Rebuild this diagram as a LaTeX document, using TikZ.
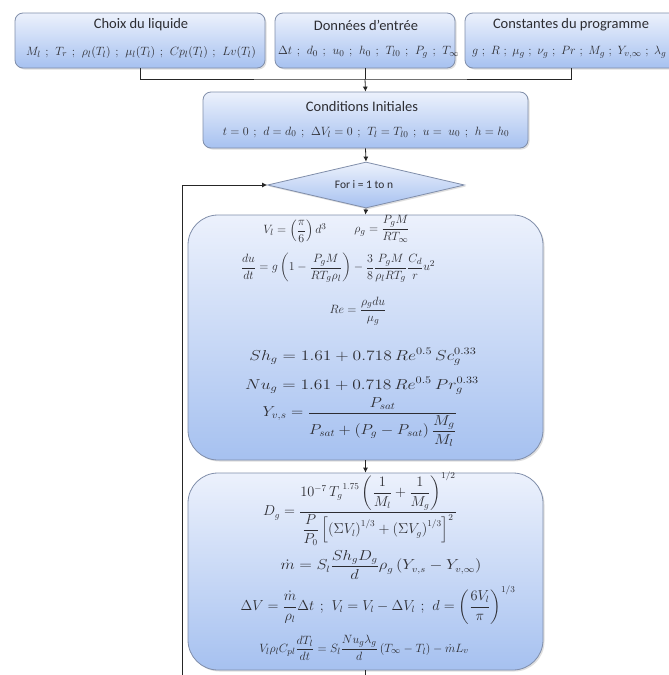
\documentclass[tikz,border=0pt]{standalone}
\usepackage{amsmath}
\usepackage{fontspec}
\setmainfont{Carlito}
\usetikzlibrary{shapes.geometric,arrows.meta,shadows}
\definecolor{boxtop}{RGB}{236,241,252}
\definecolor{boxbot}{RGB}{166,193,240}
\definecolor{boxline}{RGB}{128,142,170}
\definecolor{txt}{RGB}{45,45,50}
\newcommand{\sepc}{\mskip 7mu;\mskip 7mu}
\newcommand{\sepn}{\mskip 5.5mu;\mskip 5.5mu}
\newcommand{\fs}[1]{\fontsize{#1}{#1}\selectfont}
\newcommand{\wide}[2]{\scalebox{#1}[1]{#2}}
\tikzset{
  panel/.style={draw=boxline, line width=0.8pt, rounded corners=8pt,
    top color=boxtop, bottom color=boxbot,
    drop shadow={opacity=0.25, shadow xshift=1.5pt, shadow yshift=-1.5pt}},
  bigpanel/.style={panel, rounded corners=30pt},
  ttl/.style={font=\fs{14.5}, text=txt, inner sep=0pt},
  fsmall/.style={font=\fs{12.5}, text=txt, inner sep=0pt},
  fbig/.style={font=\fs{13}, text=txt, inner sep=0pt},
  link/.style={draw=black!85, line width=0.8pt},
  arrow/.style={link, -{Latex[length=5pt,width=5pt]}},
}
\begin{document}
\begin{tikzpicture}[x=1pt,y=-1pt]
\useasboundingbox (0,0) rectangle (669,675);
\fill[white] (0,0) rectangle (669,675);

% top boxes
\node[panel, minimum width=250pt, minimum height=55pt] (liq) at (140,40.5) {};
\node[ttl] (liqT) at (141,25) {Choix du liquide};
\node[fsmall] (liqF) at (141,52) {$M_l \sepc T_r \sepc \rho_l(T_l) \sepc \mu_l(T_l) \sepc Cp_l(T_l) \sepc Lv(T_l)$};

\node[panel, minimum width=180pt, minimum height=55pt] (don) at (365,40.5) {};
\node[ttl] (donT) at (366,25) {Données d'entrée};
\node[fsmall, anchor=west] (donF) at (278,52) {$\Delta t \sepc d_0 \sepc u_0 \sepc h_0 \sepc T_{l0} \sepc P_g \sepc T_\infty$};

\node[panel, minimum width=212pt, minimum height=55pt] (cst) at (571,40.5) {};
\node[ttl] (cstT) at (571,25) {Constantes du programme};
\node[fsmall, anchor=west] (cstF) at (472,52) {$g \sepn R \sepn \mu_g \sepn \nu_g \sepn Pr \sepn M_g \sepn Y_{v,\infty} \sepn \lambda_g$};

\coordinate (join) at (365,79);
\draw[link] (liq.south) |- (join) -| (cst.south);
\draw[link] (don.south) -- (join);

% initial conditions
\node[panel, minimum width=325pt, minimum height=56pt] (cond) at (365.5,120) {};
\node[ttl] (condT) at (362,107) {Conditions Initiales};
\node[fsmall, font=\fs{12.8}] (condF) at (366,132) {$t = 0 \sepc d = d_0 \sepc \Delta V_l = 0 \sepc T_l = T_{l0} \sepc u = \ u_0 \sepc h = h_0$};
\draw[arrow] (join) -- (cond.north);

% loop diamond
\node[panel, diamond, rounded corners=0pt, aspect=4.3, inner sep=0pt,
      minimum width=197pt, minimum height=46pt] (for) at (366,185) {};
\node[ttl, font=\fs{11.5}] (forT) at (364,185) {For i = 1 to n};
\draw[arrow] (cond.south) -- (for.north);
\coordinate (loopS) at (182,690);
\draw[arrow] (loopS) |- (for.west);

% first big box
\node[bigpanel, minimum width=355pt, minimum height=245pt] (boxA) at (365.5,337.5) {};
\draw[arrow] (for.south) -- (boxA.north);
\node[fbig] (a1) at (295,231) {$V_l = \left(\dfrac{\pi}{6}\right) d^3$};
\node[fbig] (a2) at (382,229) {$\rho_g = \dfrac{P_g M}{R T_\infty}$};
\node[fbig] (a3) at (338,268) {$\dfrac{du}{dt} = g\left(1-\dfrac{P_g M}{R T_g \rho_l}\right) - \dfrac{3}{8}\dfrac{P_g M}{\rho_l R T_g}\dfrac{C_d}{r}u^2$};
\node[fbig] (a4) at (358,311) {$Re = \dfrac{\rho_g d u}{\mu_g}$};
\node[fbig, font=\fs{14}] (a5) at (363,357) {\wide{1.22}{$Sh_g = 1.61 + 0.718\,Re^{0.5}\,Sc_g^{0.33}$}};
\node[fbig, font=\fs{14}] (a6) at (362,386) {\wide{1.22}{$Nu_g = 1.61 + 0.718\,Re^{0.5}\,Pr_g^{0.33}$}};
\node[fbig, font=\fs{14}] (a7) at (360,422) {\wide{1.12}{$Y_{v,s} = \dfrac{P_{sat}}{P_{sat} + \left(P_g - P_{sat}\right)\dfrac{M_g}{M_l}}$}};

% second big box
\node[bigpanel, minimum width=355pt, minimum height=197pt] (boxB) at (365.5,571.5) {};
\draw[arrow] (boxA.south) -- (boxB.north);
\node[fbig, font=\fs{13.5}] (b1) at (360,509) {$D_g = \dfrac{10^{-7}\, {T_g}^{1.75}\left(\dfrac{1}{M_l}+\dfrac{1}{M_g}\right)^{1/2}}{\dfrac{P}{P_0}\left[\left(\Sigma V_l\right)^{1/3}+\left(\Sigma V_g\right)^{1/3}\right]^2}$};
\node[fbig, font=\fs{13.5}] (b2) at (381,565) {\wide{1.15}{$\dot m = S_l \dfrac{Sh_g D_g}{d}\rho_g\left(Y_{v,s}-Y_{v,\infty}\right)$}};
\node[fbig, font=\fs{13.5}] (b3) at (378,605) {$\Delta V = \dfrac{\dot m}{\rho_l}\Delta t \sepc V_l = V_l - \Delta V_l \sepc d = \left(\dfrac{6V_l}{\pi}\right)^{1/3}$};
\node[fbig] (b4) at (364,648) {$V_l\rho_l C_{pl}\dfrac{dT_l}{dt} = S_l\dfrac{Nu_g\lambda_g}{d}\left(T_\infty - T_l\right) - \dot m L_v$};
\coordinate (outS) at (365.5,690);
\draw[link] (boxB.south) -- (outS);
\end{tikzpicture}
\end{document}
